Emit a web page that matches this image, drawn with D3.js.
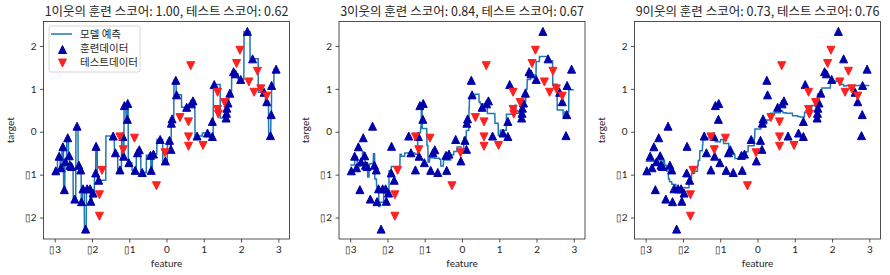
<!DOCTYPE html>
<html>
<head>
<meta charset="utf-8">
<script src="https://cdn.jsdelivr.net/npm/d3@7"></script>
<style>
  body { margin: 0; background: #fff; }
  text { font-family: "Noto Sans CJK KR", "DejaVu Sans", sans-serif; fill: #262626; }
  .lat { font-family: Lato, "Liberation Sans", sans-serif; }
</style>
</head>
<body>
<div id="chart"></div>
<script>
// training data
const trainX = [-2.97, -2.88, -2.83, -2.78, -2.74, -2.71, -2.65, -2.61, -2.59, -2.55,
  -2.46, -2.40, -2.35, -2.30, -2.28, -2.24, -2.17, -2.13, -2.05, -2.03,
  -1.97, -1.90, -1.89, -1.82, -1.43, -1.37, -1.25, -1.17, -1.15, -1.13,
  -1.04, -1.05, -1.01, -0.84, -0.78, -0.73, -0.65, -0.41, -0.43, -0.35,
  -0.17, -0.03, 0.08, 0.12, 0.13, 0.15, 0.25, 0.27, 0.54, 0.66,
  0.71, 0.82, 1.10, 1.23, 1.23, 1.28, 1.60, 1.61, 1.62, 1.65,
  1.70, 1.80, 1.85, 1.99, 2.17, 2.31, 2.62, 2.69, 2.79, 2.81,
  2.82, 2.94];
const trainY = [-0.91, -0.57, -0.84, -0.35, -1.35, -0.70, -0.14, -0.56, -0.78, -0.81,
  -1.57, 0.13, -0.78, -0.89, -1.63, -1.33, -2.27, -1.33, -1.33, -1.62,
  -1.43, -0.96, -0.34, -1.13, -0.10, -0.49, -0.89, -0.11, -0.57, 0.61,
  0.66, 0.29, -0.72, -0.90, -0.49, -0.42, -0.95, -0.90, -0.55, -0.52,
  -0.18, -0.68, -0.20, -0.41, 0.20, 0.30, 1.20, 0.86, 0.57, 0.65,
  0.72, -0.10, -0.03, -0.11, 0.24, 1.10, 0.32, 0.43, 0.55, 0.67,
  0.90, 1.40, 1.35, 1.22, 2.34, 1.70, 0.92, 0.70, -0.09, 0.40,
  1.08, 1.46];

// test data
const testX = [-1.80, -1.80, -1.73, -1.25, -1.16, -0.86, -0.27, -0.04, 0.36, 0.59,
  0.59, 0.59, 0.65, 0.98, 1.37, 1.37, 1.39, 1.56, 1.88, 1.97,
  2.21, 2.35, 2.44, 2.53, 2.69];
const testY = [-1.97, -1.47, -0.90, -0.12, -0.42, -0.15, -1.26, -0.49, 0.33, 0.23,
  -0.12, -0.34, 1.54, -0.32, 0.92, 0.52, 0.41, 0.68, 1.59, 1.90,
  1.16, 0.92, 1.41, 1.00, 0.83];

const neighborCounts = [1, 3, 9];
const trainScores = ["1.00", "0.84", "0.73"];
const testScores = ["0.62", "0.67", "0.76"];
const xTicks = [-3, -2, -1, 0, 1, 2, 3];
const yTicks = [-2, -1, 0, 1, 2];
const legendLabels = ["모델 예측", "훈련데이터", "테스트데이터"];

const width = 890;
const height = 275;
const panelLefts = [43.5, 339, 634.5];
const panelW = 246;
const panelTop = 21.5;
const panelH = 217.5;

const lineColor = "#1f77b4";
const trainColor = "#0000aa";
const testColor = "#ff2020";

const train = trainX.map((x, i) => ({ x, y: trainY[i] }));
const test = testX.map((x, i) => ({ x, y: testY[i] }));

// k-nearest-neighbour prediction on an evenly spaced grid
const grid = d3.range(1000).map((i) => -3 + (6 * i) / 999);
function predict(k) {
  return grid.map((gx) => {
    const nearest = train
      .map((d) => ({ dist: Math.abs(d.x - gx), y: d.y }))
      .sort((a, b) => a.dist - b.dist)
      .slice(0, k);
    return { x: gx, y: d3.mean(nearest, (d) => d.y) };
  });
}

const allY = trainY.concat(testY);
const yMin = d3.min(allY);
const yMax = d3.max(allY);
const yPad = (yMax - yMin) * 0.05;

const fmt = (d) => (d < 0 ? "\u25AF" + Math.abs(d) : String(d));

const svg = d3
  .select("#chart")
  .append("svg")
  .attr("width", width)
  .attr("height", height)
  .attr("viewBox", `0 0 ${width} ${height}`);

function tri(up, s) {
  const h = s / 2;
  return up
    ? `M0,${-h}L${h},${h}L${-h},${h}Z`
    : `M0,${h}L${h},${-h}L${-h},${-h}Z`;
}

neighborCounts.forEach((k, pi) => {
  const left = panelLefts[pi];
  const g = svg.append("g");

  const xScale = d3.scaleLinear().domain([-3.3, 3.3]).range([left, left + panelW]);
  const yScale = d3
    .scaleLinear()
    .domain([yMin - yPad, yMax + yPad])
    .range([panelTop + panelH, panelTop]);

  // prediction line
  const line = d3
    .line()
    .x((d) => xScale(d.x))
    .y((d) => yScale(d.y));
  g.append("path")
    .datum(predict(k))
    .attr("d", line)
    .attr("fill", "none")
    .attr("stroke", lineColor)
    .attr("stroke-width", 1.5);

  // training points
  g.append("g")
    .selectAll("path")
    .data(train)
    .join("path")
    .attr("transform", (d) => `translate(${xScale(d.x)},${yScale(d.y)})`)
    .attr("d", tri(true, 8))
    .attr("fill", trainColor)
    .attr("stroke", trainColor)
    .attr("stroke-width", 1);

  // test points
  g.append("g")
    .selectAll("path")
    .data(test)
    .join("path")
    .attr("transform", (d) => `translate(${xScale(d.x)},${yScale(d.y)})`)
    .attr("d", tri(false, 8))
    .attr("fill", testColor)
    .attr("stroke", testColor)
    .attr("stroke-width", 1);

  // axes
  const xAxis = d3.axisBottom(xScale).tickValues(xTicks).tickFormat(fmt).tickSize(3.5).tickPadding(3.5);
  const yAxis = d3.axisLeft(yScale).tickValues(yTicks).tickFormat(fmt).tickSize(3.5).tickPadding(3.5);

  const gx = g.append("g").attr("transform", `translate(0,${panelTop + panelH})`).call(xAxis);
  const gy = g.append("g").attr("transform", `translate(${left},0)`).call(yAxis);
  [gx, gy].forEach((a) => {
    a.attr("font-family", null).attr("font-size", null);
    a.select(".domain").remove();
    a.selectAll("line").attr("stroke", "#262626").attr("stroke-width", 0.8);
    a.selectAll("text").attr("class", "lat").attr("font-size", 10).attr("fill", "#262626");
  });

  // frame
  g.append("rect")
    .attr("x", left)
    .attr("y", panelTop)
    .attr("width", panelW)
    .attr("height", panelH)
    .attr("fill", "none")
    .attr("stroke", "#262626")
    .attr("stroke-width", 0.8);

  // title
  const title = g
    .append("text")
    .attr("x", left + panelW / 2)
    .attr("y", 16)
    .attr("text-anchor", "middle")
    .attr("font-size", 12.5)
    .text(`${k}이웃의 훈련 스코어: ${trainScores[pi]}, 테스트 스코어: ${testScores[pi]}`);
  const len = title.node().getComputedTextLength();
  if (len > 244) title.attr("font-size", (12.5 * 244) / len);

  // axis labels
  g.append("text")
    .attr("class", "lat")
    .attr("x", left + panelW / 2)
    .attr("y", 266.5)
    .attr("text-anchor", "middle")
    .attr("font-size", 10)
    .text("feature");
  g.append("text")
    .attr("class", "lat")
    .attr("transform", `translate(${left - 30},${panelTop + panelH / 2}) rotate(-90)`)
    .attr("text-anchor", "middle")
    .attr("font-size", 10)
    .text("target");

  // legend only on the first panel
  if (pi === 0) {
    const lg = g.append("g").attr("transform", "translate(49,26)");
    lg.append("rect")
      .attr("width", 91)
      .attr("height", 46)
      .attr("rx", 2)
      .attr("fill", "#fff")
      .attr("fill-opacity", 0.8)
      .attr("stroke", "#ccc")
      .attr("stroke-width", 0.8);
    lg.append("line")
      .attr("x1", 2).attr("x2", 23).attr("y1", 8).attr("y2", 8)
      .attr("stroke", lineColor).attr("stroke-width", 1.5);
    lg.append("path")
      .attr("transform", "translate(13.5,23.5)")
      .attr("d", tri(true, 8))
      .attr("fill", trainColor).attr("stroke", trainColor);
    lg.append("path")
      .attr("transform", "translate(13.5,37)")
      .attr("d", tri(false, 8))
      .attr("fill", testColor).attr("stroke", testColor);
    lg.selectAll("text.lab")
      .data(legendLabels)
      .join("text")
      .attr("class", "lab")
      .attr("x", 31)
      .attr("y", (d, i) => 12 + i * 14)
      .attr("font-size", 10.5)
      .text((d) => d);
  }
});
</script>
</body>
</html>
